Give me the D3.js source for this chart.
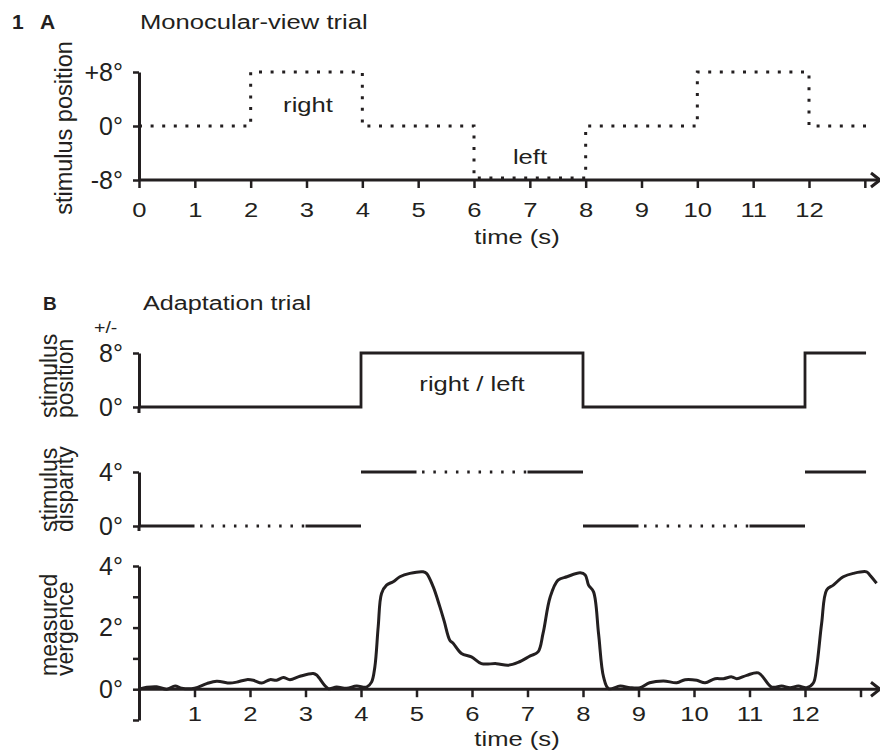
<!DOCTYPE html>
<html>
<head>
<meta charset="utf-8">
<script src="https://cdn.jsdelivr.net/npm/d3@7"></script>
<style>
  body { margin: 0; background: #fff; }
  svg { display: block; }
  text { font-family: "Liberation Sans", Arial, sans-serif; fill: #231f20; }
</style>
</head>
<body>
<div id="chart"></div>
<script>
// panel A: monocular-view trial, stimulus position (step after each time)
var monoTimes = [0, 2, 4, 6, 8, 10, 12, 13.05];
var monoPos = [0, 8, 0, -8, 0, 8, 0, 0];

// panel B: adaptation trial
var adaptTimes = [0, 4, 8, 12, 13.1];
var adaptPos = [0, 8, 0, 8, 8];

// stimulus disparity segments [start, end, value]
var dispSolid = [[0, 1, 0], [3, 4, 0], [4, 5, 4], [7, 8, 4], [8, 9, 0], [11, 12, 0], [12, 13.1, 4]];
var dispDotted = [[1.1, 3, 0], [5.1, 7, 4], [9.1, 11, 0]];

// measured vergence trace [time s, deg]
var vergence = [
  [0, 0], [0.14, 0.06], [0.32, 0.08], [0.5, 0.0], [0.65, 0.1], [0.77, 0.03], [1.0, 0.03],
  [1.22, 0.18], [1.4, 0.26], [1.64, 0.2], [1.76, 0.23], [1.94, 0.31], [2.06, 0.29], [2.21, 0.2],
  [2.36, 0.31], [2.48, 0.29], [2.6, 0.38], [2.72, 0.31], [2.9, 0.42], [3.14, 0.51], [3.2, 0.46],
  [3.41, 0.02], [3.56, 0.07], [3.74, 0.03], [3.92, 0.1], [4.1, 0.07], [4.19, 0.23], [4.25, 0.73],
  [4.31, 2.03], [4.37, 3.11], [4.46, 3.38], [4.58, 3.49], [4.7, 3.65], [4.88, 3.76], [5.12, 3.81],
  [5.18, 3.76], [5.3, 3.33], [5.42, 2.68], [5.5, 2.2], [5.6, 1.59], [5.66, 1.49], [5.81, 1.16],
  [5.99, 1.05], [6.17, 0.83], [6.44, 0.83], [6.65, 0.78], [6.83, 0.87], [7.05, 1.08], [7.19, 1.21],
  [7.28, 1.81], [7.41, 3.0], [7.55, 3.54], [7.71, 3.65], [7.95, 3.78], [8.04, 3.71], [8.1, 3.38],
  [8.19, 3.16], [8.28, 1.81], [8.37, 0.4], [8.46, 0.02], [8.67, 0.1], [8.85, 0.05], [9.03, 0.05],
  [9.2, 0.21], [9.45, 0.27], [9.69, 0.21], [9.84, 0.31], [10.05, 0.29], [10.2, 0.21], [10.38, 0.34],
  [10.53, 0.34], [10.68, 0.4], [10.77, 0.34], [10.95, 0.45], [11.16, 0.53], [11.4, 0.07],
  [11.58, 0.1], [11.73, 0.05], [11.88, 0.1], [12.03, 0.05], [12.15, 0.2], [12.21, 0.72],
  [12.3, 2.14], [12.39, 3.22], [12.51, 3.38], [12.69, 3.65], [12.87, 3.76], [13.11, 3.81],
  [13.17, 3.7], [13.29, 3.44]
];

var timeTicks = d3.range(0, 14);
var timeTicksB = d3.range(1, 14);
var ticksA = [-8, 0, 8];
var ticksALabels = ["-8°", "0°", "+8°"];
var ticksVerg = [-1, 0, 1, 2, 3, 4];

var W = 880, H = 755, ink = "#231f20";
var svg = d3.select("#chart").append("svg").attr("width", W).attr("height", H);

function txt(x, y, s, o) {
  o = o || {};
  var t = svg.append("text")
    .attr("transform", "translate(" + x + "," + y + ")" + (o.rot ? " rotate(" + o.rot + ")" : "") + " scale(" + (o.sx || 1) + ",1)")
    .attr("font-size", o.size || 21)
    .attr("text-anchor", o.anchor || "start")
    .text(s);
  if (o.bold) t.attr("font-weight", "bold");
  return t;
}

function styleAxis(g, fs, sx) {
  g.select(".domain").attr("stroke", ink).attr("stroke-width", 3);
  g.selectAll(".tick line").attr("stroke", ink).attr("stroke-width", 2.5);
  g.selectAll(".tick text").attr("font-size", fs).attr("fill", ink)
    .attr("font-family", "Liberation Sans, Arial, sans-serif");
  if (sx) g.selectAll(".tick text").attr("transform", "scale(" + sx + ",1)");
}

function arrowAxis(y, x0, x1) {
  svg.append("line").attr("x1", x0).attr("x2", x1 - 2).attr("y1", y).attr("y2", y)
    .attr("stroke", ink).attr("stroke-width", 3);
  svg.append("path").attr("d", "M" + (x1 - 9) + "," + (y - 7) + "L" + x1 + "," + y + "L" + (x1 - 9) + "," + (y + 7))
    .attr("fill", "none").attr("stroke", ink).attr("stroke-width", 3).attr("stroke-linejoin", "miter");
}

var xA = d3.scaleLinear().domain([0, 12]).range([139, 809]);
var xB = d3.scaleLinear().domain([0, 12]).range([139, 805]);

// ---------- panel A ----------
var yA = d3.scaleLinear().domain([-8, 8]).range([180, 72]);

txt(12, 29, "1", { bold: true, size: 21 });
txt(40, 29, "A", { bold: true, size: 21 });
txt(140, 29, "Monocular-view trial", { sx: 1.22 });

arrowAxis(180, 139, 880);
var gxA = svg.append("g").attr("transform", "translate(0,180)")
  .call(d3.axisBottom(xA).tickValues(timeTicks).tickFormat(function (d) { return d <= 12 ? d : ""; })
    .tickSizeInner(8).tickSizeOuter(0).tickPadding(14));
gxA.select(".domain").remove();
styleAxis(gxA, 21, 1.22);

var gyA = svg.append("g").attr("transform", "translate(139,0)")
  .call(d3.axisLeft(yA).tickValues(ticksA).tickFormat(function (d, i) { return ticksALabels[i]; })
    .tickSizeInner(6).tickSizeOuter(0).tickPadding(10));
styleAxis(gyA, 25);

txt(72, 128, "stimulus position", { rot: -90, size: 23.5, anchor: "middle" });
txt(517, 244, "time (s)", { sx: 1.22, anchor: "middle" });

svg.append("path")
  .datum(d3.zip(monoTimes, monoPos))
  .attr("d", d3.line().x(function (d) { return xA(d[0]); }).y(function (d) { return yA(d[1]) - (d[1] === -8 ? 2 : 0); }).curve(d3.curveStepAfter))
  .attr("fill", "none").attr("stroke", ink).attr("stroke-width", 3).attr("stroke-dasharray", "3 8.6");

txt(308, 112, "right", { sx: 1.22, anchor: "middle" });
txt(530, 164, "left", { sx: 1.22, anchor: "middle" });

// ---------- panel B ----------
txt(43, 310, "B", { bold: true, size: 19 });
txt(143, 310, "Adaptation trial", { sx: 1.2 });

// stimulus position
var yPos = d3.scaleLinear().domain([0, 8]).range([407, 353]);
var gyPos = svg.append("g").attr("transform", "translate(139,0)")
  .call(d3.axisLeft(yPos).tickValues([0, 8]).tickFormat(function (d) { return d + "°"; })
    .tickSizeInner(6).tickSizeOuter(0).tickPadding(10));
styleAxis(gyPos, 25);
svg.append("line").attr("x1", 139).attr("x2", 139).attr("y1", 407).attr("y2", 413).attr("stroke", ink).attr("stroke-width", 3);
txt(94, 333, "+/-", { size: 17, sx: 1.15 });

svg.append("path")
  .datum(d3.zip(adaptTimes, adaptPos))
  .attr("d", d3.line().x(function (d) { return xB(d[0]); }).y(function (d) { return yPos(d[1]); }).curve(d3.curveStepAfter))
  .attr("fill", "none").attr("stroke", ink).attr("stroke-width", 2.8);
txt(472, 391, "right / left", { sx: 1.22, anchor: "middle" });

txt(57, 418, "stimulus", { rot: -90, size: 23 });
txt(73, 418, "position", { rot: -90, size: 23 });

// stimulus disparity
var yDisp = d3.scaleLinear().domain([0, 4]).range([526, 472]);
var gyDisp = svg.append("g").attr("transform", "translate(139,0)")
  .call(d3.axisLeft(yDisp).tickValues([0, 4]).tickFormat(function (d) { return d + "°"; })
    .tickSizeInner(6).tickSizeOuter(0).tickPadding(10));
styleAxis(gyDisp, 25);
svg.append("line").attr("x1", 139).attr("x2", 139).attr("y1", 526).attr("y2", 531).attr("stroke", ink).attr("stroke-width", 3);

svg.selectAll(".disp-solid").data(dispSolid).enter().append("line")
  .attr("x1", function (d) { return xB(d[0]); }).attr("x2", function (d) { return xB(d[1]); })
  .attr("y1", function (d) { return yDisp(d[2]); }).attr("y2", function (d) { return yDisp(d[2]); })
  .attr("stroke", ink).attr("stroke-width", 2.8);
svg.selectAll(".disp-dot").data(dispDotted).enter().append("line")
  .attr("x1", function (d) { return xB(d[0]); }).attr("x2", function (d) { return xB(d[1]); })
  .attr("y1", function (d) { return yDisp(d[2]); }).attr("y2", function (d) { return yDisp(d[2]); })
  .attr("stroke", ink).attr("stroke-width", 2.8).attr("stroke-dasharray", "2.5 8.8");

txt(57, 532, "stimulus", { rot: -90, size: 23 });
txt(73, 532, "disparity", { rot: -90, size: 23 });

// measured vergence
var yV = d3.scaleLinear().domain([-1, 4]).range([720, 566]);
var gyV = svg.append("g").attr("transform", "translate(139,0)")
  .call(d3.axisLeft(yV).tickValues(ticksVerg).tickFormat(function (d) { return (d >= 0 && d % 2 === 0) ? d + "°" : ""; })
    .tickSizeInner(6).tickSizeOuter(0).tickPadding(10));
styleAxis(gyV, 25);

arrowAxis(yV(0), 139, 880);
var gxB = svg.append("g").attr("transform", "translate(0," + yV(0) + ")")
  .call(d3.axisBottom(xB).tickValues(timeTicksB).tickFormat(function (d) { return d <= 12 ? d : ""; })
    .tickSizeInner(8).tickSizeOuter(0).tickPadding(9));
gxB.select(".domain").remove();
styleAxis(gxB, 21, 1.22);

svg.append("path")
  .datum(vergence)
  .attr("d", d3.line().x(function (d) { return xB(d[0]); }).y(function (d) { return yV(d[1]); }).curve(d3.curveCatmullRom.alpha(0.5)))
  .attr("fill", "none").attr("stroke", ink).attr("stroke-width", 3).attr("stroke-linejoin", "round");

txt(57, 676, "measured", { rot: -90, size: 23 });
txt(73, 676, "vergence", { rot: -90, size: 23 });
txt(517, 746, "time (s)", { sx: 1.22, anchor: "middle" });
</script>
</body>
</html>
